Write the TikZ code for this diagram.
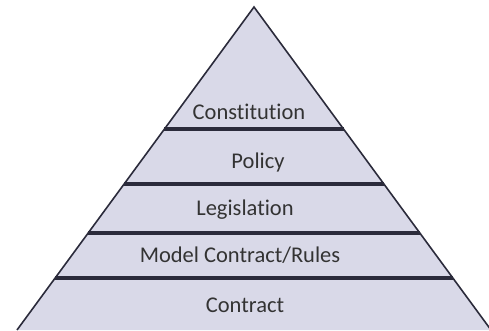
\documentclass[tikz,border=0pt]{standalone}
\usepackage{fontspec}
\setmainfont[Ligatures=NoCommon]{Carlito}
\usetikzlibrary{calc}
\definecolor{layerfill}{HTML}{D9D9E8}
\definecolor{layerline}{HTML}{2B2B3B}

\begin{document}
\begin{tikzpicture}[x=1pt, y=1pt,
    layertext/.style={font=\fontsize{22.5}{27}\selectfont, text=black!80}]
    \clip (0,0) rectangle (489,330);

    % Pyramid
    \coordinate (apex) at (254,323);
    \coordinate (left) at (17,0);
    \coordinate (right) at (491,0);
    \fill[layerfill] (apex) -- (left) -- (right) -- cycle;

    % Layer dividers
    \foreach \y in {52,97,146,201} {
        \draw[layerline, line width=3.5pt]
            ($(apex)!{(323-\y)/323}!(left)$) -- ($(apex)!{(323-\y)/323}!(right)$);
    }
    \draw[layerline, line width=1.6pt, line join=miter] (left) -- (apex) -- (right);

    % Labels
    \node[layertext] (constitution) at (249,218) {Constitution};
    \node[layertext] (policy) at (258,168) {Policy};
    \node[layertext] (legislation) at (245,120) {Legislation};
    \node[layertext] (model) at (240,75) {Model Contract/Rules};
    \node[layertext] (contract) at (245,25) {Contract};
\end{tikzpicture}
\end{document}
